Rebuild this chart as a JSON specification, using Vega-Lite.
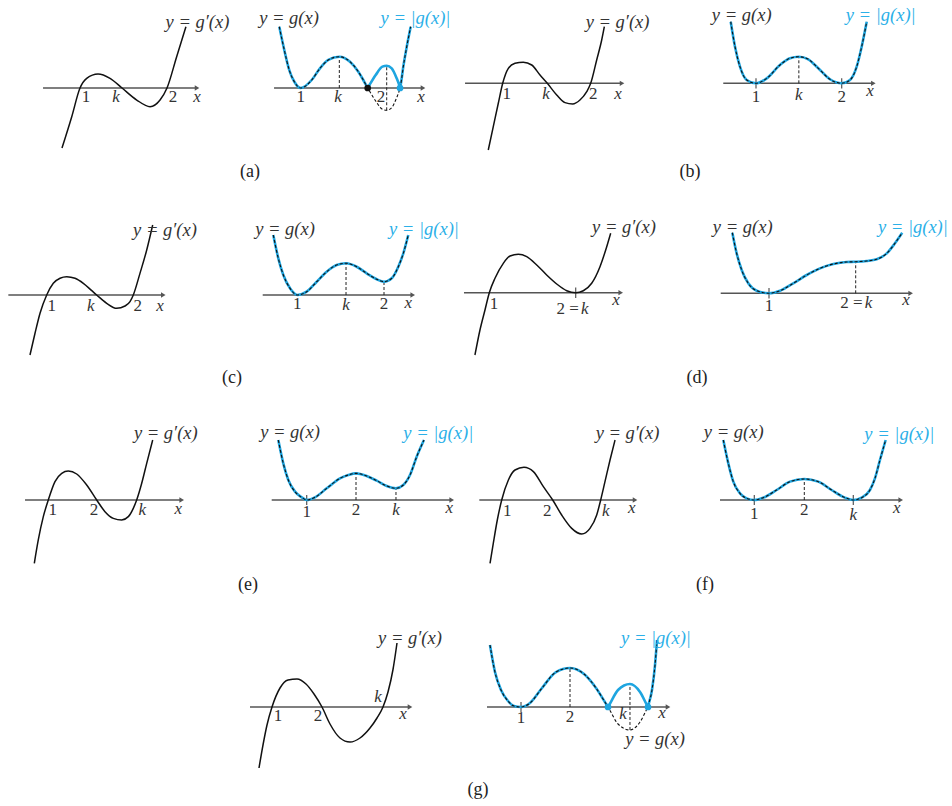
{
"$schema": "https://vega.github.io/schema/vega-lite/v6.json",
"padding": 0,
"background": "white",
"config": {"view": {"stroke": null}, "text": {"font": "Liberation Serif", "align": "center", "baseline": "middle", "color": "#333"}},
"datasets": {
"A1": [{"x":0.793,"y":-0.69},{"x":0.905,"y":-0.33},{"x":1,"y":0},{"x":1.077,"y":0.111},{"x":1.207,"y":0.161},{"x":1.345,"y":0.111},{"x":1.483,"y":0},{"x":1.652,"y":-0.138},{"x":1.805,"y":-0.215},{"x":1.92,"y":-0.138},{"x":2,"y":0},{"x":2.111,"y":0.36},{"x":2.218,"y":0.705}],
"A2": [{"x":0.751,"y":0.713,"a":0.713},{"x":0.809,"y":0.442,"a":0.442},{"x":0.867,"y":0.209,"a":0.209},{"x":0.926,"y":0.073,"a":0.073},{"x":1,"y":0,"a":0},{"x":1.128,"y":0.093,"a":0.093},{"x":1.224,"y":0.229,"a":0.229},{"x":1.321,"y":0.326,"a":0.326},{"x":1.449,"y":0.364,"a":0.364},{"x":1.573,"y":0.306,"a":0.306},{"x":1.67,"y":0.19,"a":0.19},{"x":1.728,"y":0.093,"a":0.093},{"x":1.76,"y":0.034,"a":0.034},{"x":1.779,"y":0,"a":0},{"x":1.8,"y":-0.035,"a":0.035},{"x":1.872,"y":-0.151,"a":0.151},{"x":1.95,"y":-0.248,"a":0.248},{"x":2,"y":-0.259,"a":0.259},{"x":2.058,"y":-0.229,"a":0.229},{"x":2.116,"y":-0.113,"a":0.113},{"x":2.145,"y":-0.035,"a":0.035},{"x":2.155,"y":0,"a":0},{"x":2.165,"y":0.05,"a":0.05},{"x":2.193,"y":0.248,"a":0.248},{"x":2.233,"y":0.48,"a":0.48},{"x":2.279,"y":0.713,"a":0.713}],
"B1": [{"x":0.836,"y":-0.758},{"x":0.893,"y":-0.493},{"x":0.95,"y":-0.227},{"x":1,"y":0},{"x":1.064,"y":0.17},{"x":1.14,"y":0.227},{"x":1.234,"y":0.239},{"x":1.33,"y":0.208},{"x":1.424,"y":0.094},{"x":1.507,"y":0},{"x":1.614,"y":-0.133},{"x":1.708,"y":-0.22},{"x":1.795,"y":-0.235},{"x":1.878,"y":-0.19},{"x":1.955,"y":-0.095},{"x":2,"y":0},{"x":2.068,"y":0.265},{"x":2.125,"y":0.492},{"x":2.155,"y":0.643}],
"B2": [{"x":0.705,"y":0.719,"a":0.719},{"x":0.755,"y":0.427,"a":0.427},{"x":0.813,"y":0.194,"a":0.194},{"x":0.891,"y":0.039,"a":0.039},{"x":1,"y":0,"a":0},{"x":1.125,"y":0.058,"a":0.058},{"x":1.28,"y":0.214,"a":0.214},{"x":1.397,"y":0.292,"a":0.292},{"x":1.5,"y":0.31,"a":0.31},{"x":1.61,"y":0.28,"a":0.28},{"x":1.727,"y":0.175,"a":0.175},{"x":1.863,"y":0.047,"a":0.047},{"x":2,"y":0,"a":0},{"x":2.097,"y":0.039,"a":0.039},{"x":2.175,"y":0.194,"a":0.194},{"x":2.233,"y":0.427,"a":0.427},{"x":2.292,"y":0.719,"a":0.719}],
"C1": [{"x":0.807,"y":-0.693},{"x":0.865,"y":-0.442},{"x":0.923,"y":-0.211},{"x":1,"y":0},{"x":1.076,"y":0.135},{"x":1.154,"y":0.193},{"x":1.231,"y":0.211},{"x":1.327,"y":0.193},{"x":1.423,"y":0.135},{"x":1.52,"y":0.05},{"x":1.577,"y":0},{"x":1.693,"y":-0.096},{"x":1.808,"y":-0.154},{"x":1.904,"y":-0.127},{"x":1.962,"y":-0.077},{"x":2,"y":0},{"x":2.077,"y":0.25},{"x":2.155,"y":0.52},{"x":2.224,"y":0.808}],
"C2": [{"x":0.723,"y":0.692,"a":0.692},{"x":0.781,"y":0.423,"a":0.423},{"x":0.839,"y":0.231,"a":0.231},{"x":0.916,"y":0.077,"a":0.077},{"x":1,"y":0,"a":0},{"x":1.108,"y":0.038,"a":0.038},{"x":1.224,"y":0.153,"a":0.153},{"x":1.339,"y":0.269,"a":0.269},{"x":1.454,"y":0.346,"a":0.346},{"x":1.562,"y":0.366,"a":0.366},{"x":1.685,"y":0.326,"a":0.326},{"x":1.8,"y":0.25,"a":0.25},{"x":1.916,"y":0.181,"a":0.181},{"x":2,"y":0.153,"a":0.153},{"x":2.089,"y":0.193,"a":0.193},{"x":2.165,"y":0.326,"a":0.326},{"x":2.223,"y":0.481,"a":0.481},{"x":2.28,"y":0.692,"a":0.692}],
"D1": [{"x":0.834,"y":-0.721},{"x":0.892,"y":-0.432},{"x":0.95,"y":-0.2},{"x":1,"y":0},{"x":1.066,"y":0.167},{"x":1.162,"y":0.34},{"x":1.24,"y":0.425},{"x":1.336,"y":0.444},{"x":1.433,"y":0.417},{"x":1.549,"y":0.321},{"x":1.664,"y":0.205},{"x":1.78,"y":0.101},{"x":1.896,"y":0.023},{"x":2,"y":0},{"x":2.088,"y":0.023},{"x":2.185,"y":0.109},{"x":2.281,"y":0.301},{"x":2.359,"y":0.532},{"x":2.405,"y":0.688}],
"D2": [{"x":0.577,"y":0.699,"a":0.699},{"x":0.627,"y":0.461,"a":0.461},{"x":0.685,"y":0.269,"a":0.269},{"x":0.761,"y":0.115,"a":0.115},{"x":0.858,"y":0.03,"a":0.03},{"x":1,"y":0,"a":0},{"x":1.127,"y":0.03,"a":0.03},{"x":1.28,"y":0.115,"a":0.115},{"x":1.435,"y":0.211,"a":0.211},{"x":1.588,"y":0.288,"a":0.288},{"x":1.742,"y":0.338,"a":0.338},{"x":1.896,"y":0.361,"a":0.361},{"x":2,"y":0.364,"a":0.364},{"x":2.127,"y":0.373,"a":0.373},{"x":2.242,"y":0.392,"a":0.392},{"x":2.358,"y":0.461,"a":0.461},{"x":2.453,"y":0.577,"a":0.577},{"x":2.537,"y":0.699,"a":0.699}],
"E1": [{"x":0.711,"y":-1.308},{"x":0.793,"y":-0.826},{"x":0.897,"y":-0.344},{"x":1,"y":0},{"x":1.138,"y":0.379},{"x":1.277,"y":0.551},{"x":1.413,"y":0.599},{"x":1.587,"y":0.537},{"x":1.793,"y":0.31},{"x":2,"y":0},{"x":2.171,"y":-0.241},{"x":2.343,"y":-0.379},{"x":2.517,"y":-0.413},{"x":2.653,"y":-0.344},{"x":2.756,"y":-0.172},{"x":2.826,"y":0},{"x":2.93,"y":0.345},{"x":3.033,"y":0.758},{"x":3.157,"y":1.24}],
"E2": [{"x":0.424,"y":1.217,"a":1.217},{"x":0.525,"y":0.744,"a":0.744},{"x":0.627,"y":0.406,"a":0.406},{"x":0.763,"y":0.169,"a":0.169},{"x":0.899,"y":0.054,"a":0.054},{"x":1,"y":0,"a":0},{"x":1.168,"y":0.054,"a":0.054},{"x":1.406,"y":0.237,"a":0.237},{"x":1.675,"y":0.44,"a":0.44},{"x":1.844,"y":0.507,"a":0.507},{"x":2,"y":0.541,"a":0.541},{"x":2.217,"y":0.487,"a":0.487},{"x":2.42,"y":0.392,"a":0.392},{"x":2.623,"y":0.284,"a":0.284},{"x":2.811,"y":0.237,"a":0.237},{"x":2.959,"y":0.304,"a":0.304},{"x":3.095,"y":0.507,"a":0.507},{"x":3.231,"y":0.878,"a":0.878},{"x":3.379,"y":1.217,"a":1.217}],
"F1": [{"x":0.771,"y":-1.242},{"x":0.835,"y":-0.85},{"x":0.914,"y":-0.392},{"x":1,"y":0},{"x":1.131,"y":0.392},{"x":1.261,"y":0.588},{"x":1.437,"y":0.641},{"x":1.621,"y":0.556},{"x":1.817,"y":0.261},{"x":2,"y":0},{"x":2.176,"y":-0.294},{"x":2.373,"y":-0.556},{"x":2.569,"y":-0.667},{"x":2.731,"y":-0.556},{"x":2.863,"y":-0.294},{"x":2.941,"y":0},{"x":3.025,"y":0.359},{"x":3.124,"y":0.784},{"x":3.222,"y":1.176}],
"F2": [{"x":0.38,"y":1.2,"a":1.2},{"x":0.48,"y":0.733,"a":0.733},{"x":0.58,"y":0.367,"a":0.367},{"x":0.714,"y":0.133,"a":0.133},{"x":0.847,"y":0.033,"a":0.033},{"x":1,"y":0,"a":0},{"x":1.18,"y":0.047,"a":0.047},{"x":1.447,"y":0.2,"a":0.2},{"x":1.713,"y":0.367,"a":0.367},{"x":2,"y":0.42,"a":0.42},{"x":2.28,"y":0.367,"a":0.367},{"x":2.547,"y":0.2,"a":0.2},{"x":2.813,"y":0.047,"a":0.047},{"x":2.98,"y":0,"a":0},{"x":3.147,"y":0.047,"a":0.047},{"x":3.313,"y":0.2,"a":0.2},{"x":3.413,"y":0.433,"a":0.433},{"x":3.513,"y":0.8,"a":0.8},{"x":3.627,"y":1.2,"a":1.2}],
"G1": [{"x":0.74,"y":-1.22},{"x":0.82,"y":-0.76},{"x":0.9,"y":-0.36},{"x":1,"y":0},{"x":1.16,"y":0.38},{"x":1.32,"y":0.54},{"x":1.5,"y":0.56},{"x":1.68,"y":0.46},{"x":1.84,"y":0.26},{"x":2,"y":0},{"x":2.16,"y":-0.34},{"x":2.36,"y":-0.62},{"x":2.56,"y":-0.7},{"x":2.76,"y":-0.62},{"x":2.96,"y":-0.42},{"x":3.1,"y":-0.22},{"x":3.22,"y":0},{"x":3.32,"y":0.3},{"x":3.42,"y":0.75},{"x":3.5,"y":1.28}],
"G2": [{"x":0.367,"y":1.265,"a":1.265},{"x":0.469,"y":0.714,"a":0.714},{"x":0.592,"y":0.347,"a":0.347},{"x":0.735,"y":0.122,"a":0.122},{"x":0.857,"y":0.02,"a":0.02},{"x":1,"y":0,"a":0},{"x":1.184,"y":0.082,"a":0.082},{"x":1.429,"y":0.388,"a":0.388},{"x":1.714,"y":0.714,"a":0.714},{"x":2,"y":0.796,"a":0.796},{"x":2.286,"y":0.673,"a":0.673},{"x":2.531,"y":0.388,"a":0.388},{"x":2.75,"y":0.04,"a":0.04},{"x":2.776,"y":0,"a":0},{"x":2.8,"y":-0.04,"a":0.04},{"x":2.98,"y":-0.347,"a":0.347},{"x":3.224,"y":-0.469,"a":0.469},{"x":3.429,"y":-0.306,"a":0.306},{"x":3.57,"y":-0.04,"a":0.04},{"x":3.592,"y":0,"a":0},{"x":3.605,"y":0.055,"a":0.055},{"x":3.673,"y":0.347,"a":0.347},{"x":3.735,"y":0.857,"a":0.857},{"x":3.776,"y":1.367,"a":1.367}]
},
"columns": 4,
"spacing": 0,
"bounds": "flush",
"align": "none",
"resolve": {"scale": {"x": "independent", "y": "independent"}},
"concat": [
 {"width": 240, "height": 200,
  "encoding": {"x": {"field":"x","type":"quantitative","scale":{"domain":[1,2],"range":[80,167],"nice":false,"zero":false},"axis":null},
               "y": {"field":"y","type":"quantitative","scale":{"domain":[0,1],"range":[88,1],"nice":false,"zero":false},"axis":null}},
  "layer": [
   {"data":{"values":[{"x":0.575,"x2":2.345,"y":0}]},"mark":{"type":"rule","color":"#555","strokeWidth":1.4},"encoding":{"x2":{"field":"x2"}}},
   {"data":{"values":[{"x":2.345,"y":0}]},"mark":{"type":"point","shape":"triangle-right","filled":true,"size":28,"color":"#555","opacity":1}},
   {"data":{"name":"A1"},"mark":{"type":"line","interpolate":"monotone","color":"#111","strokeWidth":1.5}},
   {"data":{"values":[{"x":1.069,"y":-0.103,"t":"1"},{"x":2.069,"y":-0.103,"t":"2"}]},"mark":{"type":"text","fontSize":17},"encoding":{"text":{"field":"t"}}},
   {"data":{"values":[{"x":1.414,"y":-0.103,"t":"k"},{"x":2.345,"y":-0.103,"t":"x"}]},"mark":{"type":"text","fontStyle":"italic","fontSize":17},"encoding":{"text":{"field":"t"}}},
   {"data":{"values":[{"x":2.35,"y":0.759,"t":"y = g′(x)"}]},"mark":{"type":"text","fontStyle":"italic","fontSize":18.5},"encoding":{"text":{"field":"t"}}}
  ]},
 {"width": 220, "height": 200,
  "encoding": {"x": {"field":"x","type":"quantitative","scale":{"domain":[1,2],"range":[60.7,146.7],"nice":false,"zero":false},"axis":null},
               "y": {"field":"y","type":"quantitative","scale":{"domain":[0,1],"range":[88,2],"nice":false,"zero":false},"axis":null}},
  "layer": [
   {"data":{"values":[{"x":0.69,"x2":2.422,"y":0}]},"mark":{"type":"rule","color":"#555","strokeWidth":1.4},"encoding":{"x2":{"field":"x2"}}},
   {"data":{"values":[{"x":2.422,"y":0}]},"mark":{"type":"point","shape":"triangle-right","filled":true,"size":28,"color":"#555","opacity":1}},
   {"data":{"values":[{"x":1.449,"y":0,"y2":0.364},{"x":2,"y":-0.259,"y2":0.259}]},"mark":{"type":"rule","color":"#222","strokeWidth":1,"strokeDash":[3,2]},"encoding":{"y2":{"field":"y2"}}},
   {"data":{"name":"A2"},"mark":{"type":"line","interpolate":"monotone","color":"#1ea5e0","strokeWidth":2.6},"encoding":{"y":{"field":"a","type":"quantitative","scale":{"domain":[0,1],"range":[88,2],"nice":false,"zero":false},"axis":null}}},
   {"data":{"name":"A2"},"mark":{"type":"line","interpolate":"monotone","color":"#111","strokeWidth":1.1,"strokeDash":[3,2]}},
   {"data":{"values":[{"x":1.779,"y":0}]},"mark":{"type":"circle","size":45,"color":"#111","opacity":1}},
   {"data":{"values":[{"x":2.155,"y":0}]},"mark":{"type":"circle","size":45,"color":"#1ea5e0","opacity":1}},
   {"data":{"values":[{"x":1,"y":-0.105,"t":"1"},{"x":1.934,"y":-0.105,"t":"2"}]},"mark":{"type":"text","fontSize":17},"encoding":{"text":{"field":"t"}}},
   {"data":{"values":[{"x":0.41,"y":-0.977,"t":"(a)"}]},"mark":{"type":"text","fontSize":18,"color":"#222"},"encoding":{"text":{"field":"t"}}},
   {"data":{"values":[{"x":1.434,"y":-0.105,"t":"k"},{"x":2.399,"y":-0.105,"t":"x"}]},"mark":{"type":"text","fontStyle":"italic","fontSize":17},"encoding":{"text":{"field":"t"}}},
   {"data":{"values":[{"x":0.864,"y":0.81,"t":"y = g(x)"}]},"mark":{"type":"text","fontStyle":"italic","fontSize":18.5},"encoding":{"text":{"field":"t"}}},
   {"data":{"values":[{"x":2.335,"y":0.814,"t":"y = |g(x)|"}]},"mark":{"type":"text","fontStyle":"italic","fontSize":18.5,"color":"#2bb0e8"},"encoding":{"text":{"field":"t"}}}
  ]},
 {"width": 230, "height": 200,
  "encoding": {"x": {"field":"x","type":"quantitative","scale":{"domain":[1,2],"range":[42.7,130.7],"nice":false,"zero":false},"axis":null},
               "y": {"field":"y","type":"quantitative","scale":{"domain":[0,1],"range":[83.3,-4.7],"nice":false,"zero":false},"axis":null}},
  "layer": [
   {"data":{"values":[{"x":0.572,"x2":2.356,"y":0}]},"mark":{"type":"rule","color":"#555","strokeWidth":1.4},"encoding":{"x2":{"field":"x2"}}},
   {"data":{"values":[{"x":2.356,"y":0}]},"mark":{"type":"point","shape":"triangle-right","filled":true,"size":28,"color":"#555","opacity":1}},
   {"data":{"name":"B1"},"mark":{"type":"line","interpolate":"monotone","color":"#111","strokeWidth":1.5}},
   {"data":{"values":[{"x":1.045,"y":-0.12,"t":"1"},{"x":2.03,"y":-0.12,"t":"2"}]},"mark":{"type":"text","fontSize":17},"encoding":{"text":{"field":"t"}}},
   {"data":{"values":[{"x":1.492,"y":-0.12,"t":"k"},{"x":2.31,"y":-0.12,"t":"x"}]},"mark":{"type":"text","fontStyle":"italic","fontSize":17},"encoding":{"text":{"field":"t"}}},
   {"data":{"values":[{"x":2.305,"y":0.7,"t":"y = g′(x)"}]},"mark":{"type":"text","fontStyle":"italic","fontSize":18.5},"encoding":{"text":{"field":"t"}}}
  ]},
 {"width": 262, "height": 200,
  "encoding": {"x": {"field":"x","type":"quantitative","scale":{"domain":[1,2],"range":[66,151.7],"nice":false,"zero":false},"axis":null},
               "y": {"field":"y","type":"quantitative","scale":{"domain":[0,1],"range":[83.3,-2.4],"nice":false,"zero":false},"axis":null}},
  "layer": [
   {"data":{"values":[{"x":0.618,"x2":2.369,"y":0}]},"mark":{"type":"rule","color":"#555","strokeWidth":1.4},"encoding":{"x2":{"field":"x2"}}},
   {"data":{"values":[{"x":2.369,"y":0}]},"mark":{"type":"point","shape":"triangle-right","filled":true,"size":28,"color":"#555","opacity":1}},
   {"data":{"values":[{"x":1,"y":-0.06,"y2":0.06},{"x":2,"y":-0.06,"y2":0.06}]},"mark":{"type":"rule","color":"#555","strokeWidth":1.2},"encoding":{"y2":{"field":"y2"}}},
   {"data":{"values":[{"x":1.5,"y":0,"y2":0.31}]},"mark":{"type":"rule","color":"#222","strokeWidth":1,"strokeDash":[3,2]},"encoding":{"y2":{"field":"y2"}}},
   {"data":{"name":"B2"},"mark":{"type":"line","interpolate":"monotone","color":"#1ea5e0","strokeWidth":2.6},"encoding":{"y":{"field":"a","type":"quantitative","scale":{"domain":[0,1],"range":[83.3,-2.4],"nice":false,"zero":false},"axis":null}}},
   {"data":{"name":"B2"},"mark":{"type":"line","interpolate":"monotone","color":"#111","strokeWidth":1.1,"strokeDash":[3,2]}},
   {"data":{"values":[{"x":1,"y":-0.156,"t":"1"},{"x":2,"y":-0.156,"t":"2"}]},"mark":{"type":"text","fontSize":17},"encoding":{"text":{"field":"t"}}},
   {"data":{"values":[{"x":0.23,"y":-1.035,"t":"(b)"}]},"mark":{"type":"text","fontSize":18,"color":"#222"},"encoding":{"text":{"field":"t"}}},
   {"data":{"values":[{"x":1.5,"y":-0.14,"t":"k"},{"x":2.33,"y":-0.09,"t":"x"}]},"mark":{"type":"text","fontStyle":"italic","fontSize":17},"encoding":{"text":{"field":"t"}}},
   {"data":{"values":[{"x":0.833,"y":0.797,"t":"y = g(x)"}]},"mark":{"type":"text","fontStyle":"italic","fontSize":18.5},"encoding":{"text":{"field":"t"}}},
   {"data":{"values":[{"x":2.455,"y":0.797,"t":"y = |g(x)|"}]},"mark":{"type":"text","fontStyle":"italic","fontSize":18.5,"color":"#2bb0e8"},"encoding":{"text":{"field":"t"}}}
  ]},
 {"width": 240, "height": 205,
  "encoding": {"x": {"field":"x","type":"quantitative","scale":{"domain":[1,2],"range":[46.7,133.3],"nice":false,"zero":false},"axis":null},
               "y": {"field":"y","type":"quantitative","scale":{"domain":[0,1],"range":[95,8.4],"nice":false,"zero":false},"axis":null}},
  "layer": [
   {"data":{"values":[{"x":0.557,"x2":2.346,"y":0}]},"mark":{"type":"rule","color":"#555","strokeWidth":1.4},"encoding":{"x2":{"field":"x2"}}},
   {"data":{"values":[{"x":2.346,"y":0}]},"mark":{"type":"point","shape":"triangle-right","filled":true,"size":28,"color":"#555","opacity":1}},
   {"data":{"name":"C1"},"mark":{"type":"line","interpolate":"monotone","color":"#111","strokeWidth":1.5}},
   {"data":{"values":[{"x":1.058,"y":-0.127,"t":"1"},{"x":2.051,"y":-0.127,"t":"2"}]},"mark":{"type":"text","fontSize":17},"encoding":{"text":{"field":"t"}}},
   {"data":{"values":[{"x":1.508,"y":-0.127,"t":"k"},{"x":2.308,"y":-0.127,"t":"x"}]},"mark":{"type":"text","fontStyle":"italic","fontSize":17},"encoding":{"text":{"field":"t"}}},
   {"data":{"values":[{"x":2.366,"y":0.75,"t":"y = g′(x)"}]},"mark":{"type":"text","fontStyle":"italic","fontSize":18.5},"encoding":{"text":{"field":"t"}}}
  ]},
 {"width": 220, "height": 205,
  "encoding": {"x": {"field":"x","type":"quantitative","scale":{"domain":[1,2],"range":[57.3,144],"nice":false,"zero":false},"axis":null},
               "y": {"field":"y","type":"quantitative","scale":{"domain":[0,1],"range":[95,8.3],"nice":false,"zero":false},"axis":null}},
  "layer": [
   {"data":{"values":[{"x":0.601,"x2":2.331,"y":0}]},"mark":{"type":"rule","color":"#555","strokeWidth":1.4},"encoding":{"x2":{"field":"x2"}}},
   {"data":{"values":[{"x":2.331,"y":0}]},"mark":{"type":"point","shape":"triangle-right","filled":true,"size":28,"color":"#555","opacity":1}},
   {"data":{"values":[{"x":1.562,"y":0,"y2":0.366},{"x":2,"y":0,"y2":0.153}]},"mark":{"type":"rule","color":"#222","strokeWidth":1,"strokeDash":[3,2]},"encoding":{"y2":{"field":"y2"}}},
   {"data":{"name":"C2"},"mark":{"type":"line","interpolate":"monotone","color":"#1ea5e0","strokeWidth":2.6},"encoding":{"y":{"field":"a","type":"quantitative","scale":{"domain":[0,1],"range":[95,8.3],"nice":false,"zero":false},"axis":null}}},
   {"data":{"name":"C2"},"mark":{"type":"line","interpolate":"monotone","color":"#111","strokeWidth":1.1,"strokeDash":[3,2]}},
   {"data":{"values":[{"x":1,"y":-0.107,"t":"1"},{"x":2,"y":-0.107,"t":"2"}]},"mark":{"type":"text","fontSize":17},"encoding":{"text":{"field":"t"}}},
   {"data":{"values":[{"x":0.247,"y":-0.957,"t":"(c)"}]},"mark":{"type":"text","fontSize":18,"color":"#222"},"encoding":{"text":{"field":"t"}}},
   {"data":{"values":[{"x":1.562,"y":-0.115,"t":"k"},{"x":2.28,"y":-0.096,"t":"x"}]},"mark":{"type":"text","fontStyle":"italic","fontSize":17},"encoding":{"text":{"field":"t"}}},
   {"data":{"values":[{"x":0.858,"y":0.758,"t":"y = g(x)"}]},"mark":{"type":"text","fontStyle":"italic","fontSize":18.5},"encoding":{"text":{"field":"t"}}},
   {"data":{"values":[{"x":2.461,"y":0.758,"t":"y = |g(x)|"}]},"mark":{"type":"text","fontStyle":"italic","fontSize":18.5,"color":"#2bb0e8"},"encoding":{"text":{"field":"t"}}}
  ]},
 {"width": 230, "height": 205,
  "encoding": {"x": {"field":"x","type":"quantitative","scale":{"domain":[1,2],"range":[29.3,115.7],"nice":false,"zero":false},"axis":null},
               "y": {"field":"y","type":"quantitative","scale":{"domain":[0,1],"range":[92.7,6.3],"nice":false,"zero":false},"axis":null}},
  "layer": [
   {"data":{"values":[{"x":0.707,"x2":2.521,"y":0}]},"mark":{"type":"rule","color":"#555","strokeWidth":1.4},"encoding":{"x2":{"field":"x2"}}},
   {"data":{"values":[{"x":2.521,"y":0}]},"mark":{"type":"point","shape":"triangle-right","filled":true,"size":28,"color":"#555","opacity":1}},
   {"data":{"values":[{"x":2,"y":-0.06,"y2":0.06}]},"mark":{"type":"rule","color":"#555","strokeWidth":1.2},"encoding":{"y2":{"field":"y2"}}},
   {"data":{"name":"D1"},"mark":{"type":"line","interpolate":"monotone","color":"#111","strokeWidth":1.5}},
   {"data":{"values":[{"x":1.054,"y":-0.131,"t":"1"}]},"mark":{"type":"text","fontSize":17},"encoding":{"text":{"field":"t"}}},
   {"data":{"values":[{"x":2.035,"y":-0.192,"t":"2 ="}]},"mark":{"type":"text","fontSize":17,"align":"right"},"encoding":{"text":{"field":"t"}}},
   {"data":{"values":[{"x":2.06,"y":-0.192,"t":"k"}]},"mark":{"type":"text","fontStyle":"italic","fontSize":17,"align":"left"},"encoding":{"text":{"field":"t"}}},
   {"data":{"values":[{"x":2.466,"y":-0.084,"t":"x"}]},"mark":{"type":"text","fontStyle":"italic","fontSize":17},"encoding":{"text":{"field":"t"}}},
   {"data":{"values":[{"x":2.559,"y":0.764,"t":"y = g′(x)"}]},"mark":{"type":"text","fontStyle":"italic","fontSize":18.5},"encoding":{"text":{"field":"t"}}}
  ]},
 {"width": 262, "height": 205,
  "encoding": {"x": {"field":"x","type":"quantitative","scale":{"domain":[1,2],"range":[79,165.7],"nice":false,"zero":false},"axis":null},
               "y": {"field":"y","type":"quantitative","scale":{"domain":[0,1],"range":[93.3,6.6],"nice":false,"zero":false},"axis":null}},
  "layer": [
   {"data":{"values":[{"x":0.443,"x2":2.634,"y":0}]},"mark":{"type":"rule","color":"#555","strokeWidth":1.4},"encoding":{"x2":{"field":"x2"}}},
   {"data":{"values":[{"x":2.634,"y":0}]},"mark":{"type":"point","shape":"triangle-right","filled":true,"size":28,"color":"#555","opacity":1}},
   {"data":{"values":[{"x":1,"y":-0.06,"y2":0.06}]},"mark":{"type":"rule","color":"#555","strokeWidth":1.2},"encoding":{"y2":{"field":"y2"}}},
   {"data":{"values":[{"x":2,"y":0,"y2":0.364}]},"mark":{"type":"rule","color":"#222","strokeWidth":1,"strokeDash":[3,2]},"encoding":{"y2":{"field":"y2"}}},
   {"data":{"name":"D2"},"mark":{"type":"line","interpolate":"monotone","color":"#1ea5e0","strokeWidth":2.6},"encoding":{"y":{"field":"a","type":"quantitative","scale":{"domain":[0,1],"range":[93.3,6.6],"nice":false,"zero":false},"axis":null}}},
   {"data":{"name":"D2"},"mark":{"type":"line","interpolate":"monotone","color":"#111","strokeWidth":1.1,"strokeDash":[3,2]}},
   {"data":{"values":[{"x":1,"y":-0.146,"t":"1"}]},"mark":{"type":"text","fontSize":17},"encoding":{"text":{"field":"t"}}},
   {"data":{"values":[{"x":2.08,"y":-0.108,"t":"2 ="}]},"mark":{"type":"text","fontSize":17,"align":"right"},"encoding":{"text":{"field":"t"}}},
   {"data":{"values":[{"x":2.105,"y":-0.108,"t":"k"}]},"mark":{"type":"text","fontStyle":"italic","fontSize":17,"align":"left"},"encoding":{"text":{"field":"t"}}},
   {"data":{"values":[{"x":0.17,"y":-0.977,"t":"(d)"}]},"mark":{"type":"text","fontSize":18,"color":"#222"},"encoding":{"text":{"field":"t"}}},
   {"data":{"values":[{"x":2.58,"y":-0.077,"t":"x"}]},"mark":{"type":"text","fontStyle":"italic","fontSize":17},"encoding":{"text":{"field":"t"}}},
   {"data":{"values":[{"x":0.697,"y":0.768,"t":"y = g(x)"}]},"mark":{"type":"text","fontStyle":"italic","fontSize":18.5},"encoding":{"text":{"field":"t"}}},
   {"data":{"values":[{"x":2.66,"y":0.768,"t":"y = |g(x)|"}]},"mark":{"type":"text","fontStyle":"italic","fontSize":18.5,"color":"#2bb0e8"},"encoding":{"text":{"field":"t"}}}
  ]},
 {"width": 240, "height": 205,
  "encoding": {"x": {"field":"x","type":"quantitative","scale":{"domain":[1,2],"range":[48.3,96.7],"nice":false,"zero":false},"axis":null},
               "y": {"field":"y","type":"quantitative","scale":{"domain":[0,1],"range":[95,46.6],"nice":false,"zero":false},"axis":null}},
  "layer": [
   {"data":{"values":[{"x":0.519,"x2":3.756,"y":0}]},"mark":{"type":"rule","color":"#555","strokeWidth":1.4},"encoding":{"x2":{"field":"x2"}}},
   {"data":{"values":[{"x":3.756,"y":0}]},"mark":{"type":"point","shape":"triangle-right","filled":true,"size":28,"color":"#555","opacity":1}},
   {"data":{"name":"E1"},"mark":{"type":"line","interpolate":"monotone","color":"#111","strokeWidth":1.5}},
   {"data":{"values":[{"x":1.091,"y":-0.207,"t":"1"},{"x":1.944,"y":-0.207,"t":"2"}]},"mark":{"type":"text","fontSize":17},"encoding":{"text":{"field":"t"}}},
   {"data":{"values":[{"x":2.942,"y":-0.207,"t":"k"},{"x":3.686,"y":-0.186,"t":"x"}]},"mark":{"type":"text","fontStyle":"italic","fontSize":17},"encoding":{"text":{"field":"t"}}},
   {"data":{"values":[{"x":3.428,"y":1.378,"t":"y = g′(x)"}]},"mark":{"type":"text","fontStyle":"italic","fontSize":18.5},"encoding":{"text":{"field":"t"}}}
  ]},
 {"width": 220, "height": 205,
  "encoding": {"x": {"field":"x","type":"quantitative","scale":{"domain":[1,2],"range":[66.7,116],"nice":false,"zero":false},"axis":null},
               "y": {"field":"y","type":"quantitative","scale":{"domain":[0,1],"range":[95,45.7],"nice":false,"zero":false},"axis":null}},
  "layer": [
   {"data":{"values":[{"x":0.29,"x2":3.941,"y":0}]},"mark":{"type":"rule","color":"#555","strokeWidth":1.4},"encoding":{"x2":{"field":"x2"}}},
   {"data":{"values":[{"x":3.941,"y":0}]},"mark":{"type":"point","shape":"triangle-right","filled":true,"size":28,"color":"#555","opacity":1}},
   {"data":{"values":[{"x":1,"y":-0.1,"y2":0.1}]},"mark":{"type":"rule","color":"#555","strokeWidth":1.2},"encoding":{"y2":{"field":"y2"}}},
   {"data":{"values":[{"x":2,"y":0,"y2":0.541},{"x":2.811,"y":0,"y2":0.237}]},"mark":{"type":"rule","color":"#222","strokeWidth":1,"strokeDash":[3,2]},"encoding":{"y2":{"field":"y2"}}},
   {"data":{"name":"E2"},"mark":{"type":"line","interpolate":"monotone","color":"#1ea5e0","strokeWidth":2.6},"encoding":{"y":{"field":"a","type":"quantitative","scale":{"domain":[0,1],"range":[95,45.7],"nice":false,"zero":false},"axis":null}}},
   {"data":{"name":"E2"},"mark":{"type":"line","interpolate":"monotone","color":"#111","strokeWidth":1.1,"strokeDash":[3,2]}},
   {"data":{"values":[{"x":1,"y":-0.237,"t":"1"},{"x":2,"y":-0.203,"t":"2"}]},"mark":{"type":"text","fontSize":17},"encoding":{"text":{"field":"t"}}},
   {"data":{"values":[{"x":-0.191,"y":-1.724,"t":"(e)"}]},"mark":{"type":"text","fontSize":18,"color":"#222"},"encoding":{"text":{"field":"t"}}},
   {"data":{"values":[{"x":2.811,"y":-0.203,"t":"k"},{"x":3.892,"y":-0.169,"t":"x"}]},"mark":{"type":"text","fontStyle":"italic","fontSize":17},"encoding":{"text":{"field":"t"}}},
   {"data":{"values":[{"x":0.661,"y":1.385,"t":"y = g(x)"}]},"mark":{"type":"text","fontStyle":"italic","fontSize":18.5},"encoding":{"text":{"field":"t"}}},
   {"data":{"values":[{"x":3.669,"y":1.352,"t":"y = |g(x)|"}]},"mark":{"type":"text","fontStyle":"italic","fontSize":18.5,"color":"#2bb0e8"},"encoding":{"text":{"field":"t"}}}
  ]},
 {"width": 230, "height": 205,
  "encoding": {"x": {"field":"x","type":"quantitative","scale":{"domain":[1,2],"range":[41.7,92.7],"nice":false,"zero":false},"axis":null},
               "y": {"field":"y","type":"quantitative","scale":{"domain":[0,1],"range":[95,44],"nice":false,"zero":false},"axis":null}},
  "layer": [
   {"data":{"values":[{"x":0.561,"x2":3.614,"y":0}]},"mark":{"type":"rule","color":"#555","strokeWidth":1.4},"encoding":{"x2":{"field":"x2"}}},
   {"data":{"values":[{"x":3.614,"y":0}]},"mark":{"type":"point","shape":"triangle-right","filled":true,"size":28,"color":"#555","opacity":1}},
   {"data":{"name":"F1"},"mark":{"type":"line","interpolate":"monotone","color":"#111","strokeWidth":1.5}},
   {"data":{"values":[{"x":1.11,"y":-0.21,"t":"1"},{"x":1.894,"y":-0.21,"t":"2"}]},"mark":{"type":"text","fontSize":17},"encoding":{"text":{"field":"t"}}},
   {"data":{"values":[{"x":3.039,"y":-0.21,"t":"k"},{"x":3.549,"y":-0.163,"t":"x"}]},"mark":{"type":"text","fontStyle":"italic","fontSize":17},"encoding":{"text":{"field":"t"}}},
   {"data":{"values":[{"x":3.467,"y":1.308,"t":"y = g′(x)"}]},"mark":{"type":"text","fontStyle":"italic","fontSize":18.5},"encoding":{"text":{"field":"t"}}}
  ]},
 {"width": 262, "height": 205,
  "encoding": {"x": {"field":"x","type":"quantitative","scale":{"domain":[1,2],"range":[64.3,114.3],"nice":false,"zero":false},"axis":null},
               "y": {"field":"y","type":"quantitative","scale":{"domain":[0,1],"range":[95,45],"nice":false,"zero":false},"axis":null}},
  "layer": [
   {"data":{"values":[{"x":0.314,"x2":3.928,"y":0}]},"mark":{"type":"rule","color":"#555","strokeWidth":1.4},"encoding":{"x2":{"field":"x2"}}},
   {"data":{"values":[{"x":3.928,"y":0}]},"mark":{"type":"point","shape":"triangle-right","filled":true,"size":28,"color":"#555","opacity":1}},
   {"data":{"values":[{"x":1,"y":-0.1,"y2":0.1},{"x":2.98,"y":-0.1,"y2":0.1}]},"mark":{"type":"rule","color":"#555","strokeWidth":1.2},"encoding":{"y2":{"field":"y2"}}},
   {"data":{"values":[{"x":2,"y":0,"y2":0.42}]},"mark":{"type":"rule","color":"#222","strokeWidth":1,"strokeDash":[3,2]},"encoding":{"y2":{"field":"y2"}}},
   {"data":{"name":"F2"},"mark":{"type":"line","interpolate":"monotone","color":"#1ea5e0","strokeWidth":2.6},"encoding":{"y":{"field":"a","type":"quantitative","scale":{"domain":[0,1],"range":[95,45],"nice":false,"zero":false},"axis":null}}},
   {"data":{"name":"F2"},"mark":{"type":"line","interpolate":"monotone","color":"#111","strokeWidth":1.1,"strokeDash":[3,2]}},
   {"data":{"values":[{"x":1,"y":-0.28,"t":"1"},{"x":2,"y":-0.2,"t":"2"}]},"mark":{"type":"text","fontSize":17},"encoding":{"text":{"field":"t"}}},
   {"data":{"values":[{"x":0.014,"y":-1.7,"t":"(f)"}]},"mark":{"type":"text","fontSize":18,"color":"#222"},"encoding":{"text":{"field":"t"}}},
   {"data":{"values":[{"x":2.98,"y":-0.3,"t":"k"},{"x":3.848,"y":-0.167,"t":"x"}]},"mark":{"type":"text","fontStyle":"italic","fontSize":17},"encoding":{"text":{"field":"t"}}},
   {"data":{"values":[{"x":0.588,"y":1.366,"t":"y = g(x)"}]},"mark":{"type":"text","fontStyle":"italic","fontSize":18.5},"encoding":{"text":{"field":"t"}}},
   {"data":{"values":[{"x":3.9,"y":1.32,"t":"y = |g(x)|"}]},"mark":{"type":"text","fontStyle":"italic","fontSize":18.5,"color":"#2bb0e8"},"encoding":{"text":{"field":"t"}}}
  ]},
 {"width": 240, "height": 196,
  "encoding": {"x": {"field":"x","type":"quantitative","scale":{"domain":[1,2],"range":[272,322],"nice":false,"zero":false},"axis":null},
               "y": {"field":"y","type":"quantitative","scale":{"domain":[0,1],"range":[97,47],"nice":false,"zero":false},"axis":null}},
  "layer": [
   {"data":{"values":[{"x":0.56,"x2":3.76,"y":0}]},"mark":{"type":"rule","color":"#555","strokeWidth":1.4},"encoding":{"x2":{"field":"x2"}}},
   {"data":{"values":[{"x":3.76,"y":0}]},"mark":{"type":"point","shape":"triangle-right","filled":true,"size":28,"color":"#555","opacity":1}},
   {"data":{"name":"G1"},"mark":{"type":"line","interpolate":"monotone","color":"#111","strokeWidth":1.5}},
   {"data":{"values":[{"x":1.12,"y":-0.18,"t":"1"},{"x":1.92,"y":-0.18,"t":"2"}]},"mark":{"type":"text","fontSize":17},"encoding":{"text":{"field":"t"}}},
   {"data":{"values":[{"x":3.12,"y":0.2,"t":"k"},{"x":3.62,"y":-0.14,"t":"x"}]},"mark":{"type":"text","fontStyle":"italic","fontSize":17},"encoding":{"text":{"field":"t"}}},
   {"data":{"values":[{"x":3.76,"y":1.38,"t":"y = g′(x)"}]},"mark":{"type":"text","fontStyle":"italic","fontSize":18.5},"encoding":{"text":{"field":"t"}}}
  ]},
 {"width": 220, "height": 196,
  "encoding": {"x": {"field":"x","type":"quantitative","scale":{"domain":[1,2],"range":[281,330],"nice":false,"zero":false},"axis":null},
               "y": {"field":"y","type":"quantitative","scale":{"domain":[0,1],"range":[97,48],"nice":false,"zero":false},"axis":null}},
  "layer": [
   {"data":{"values":[{"x":0.306,"x2":4.0,"y":0}]},"mark":{"type":"rule","color":"#555","strokeWidth":1.4},"encoding":{"x2":{"field":"x2"}}},
   {"data":{"values":[{"x":4.0,"y":0}]},"mark":{"type":"point","shape":"triangle-right","filled":true,"size":28,"color":"#555","opacity":1}},
   {"data":{"values":[{"x":1,"y":-0.1,"y2":0.1}]},"mark":{"type":"rule","color":"#555","strokeWidth":1.2},"encoding":{"y2":{"field":"y2"}}},
   {"data":{"values":[{"x":2,"y":0,"y2":0.796},{"x":3.224,"y":-0.469,"y2":0.469}]},"mark":{"type":"rule","color":"#222","strokeWidth":1,"strokeDash":[3,2]},"encoding":{"y2":{"field":"y2"}}},
   {"data":{"name":"G2"},"mark":{"type":"line","interpolate":"monotone","color":"#1ea5e0","strokeWidth":2.6},"encoding":{"y":{"field":"a","type":"quantitative","scale":{"domain":[0,1],"range":[97,48],"nice":false,"zero":false},"axis":null}}},
   {"data":{"name":"G2"},"mark":{"type":"line","interpolate":"monotone","color":"#111","strokeWidth":1.1,"strokeDash":[3,2]}},
   {"data":{"values":[{"x":2.776,"y":0},{"x":3.592,"y":0}]},"mark":{"type":"circle","size":45,"color":"#1ea5e0","opacity":1}},
   {"data":{"values":[{"x":1,"y":-0.22,"t":"1"},{"x":2,"y":-0.2,"t":"2"}]},"mark":{"type":"text","fontSize":17},"encoding":{"text":{"field":"t"}}},
   {"data":{"values":[{"x":0.122,"y":-1.694,"t":"(g)"}]},"mark":{"type":"text","fontSize":18,"color":"#222"},"encoding":{"text":{"field":"t"}}},
   {"data":{"values":[{"x":3.08,"y":-0.14,"t":"k"},{"x":3.878,"y":-0.12,"t":"x"}]},"mark":{"type":"text","fontStyle":"italic","fontSize":17},"encoding":{"text":{"field":"t"}}},
   {"data":{"values":[{"x":3.735,"y":-0.653,"t":"y = g(x)"}]},"mark":{"type":"text","fontStyle":"italic","fontSize":18.5},"encoding":{"text":{"field":"t"}}},
   {"data":{"values":[{"x":3.755,"y":1.408,"t":"y = |g(x)|"}]},"mark":{"type":"text","fontStyle":"italic","fontSize":18.5,"color":"#2bb0e8"},"encoding":{"text":{"field":"t"}}}
  ]}
]
}
